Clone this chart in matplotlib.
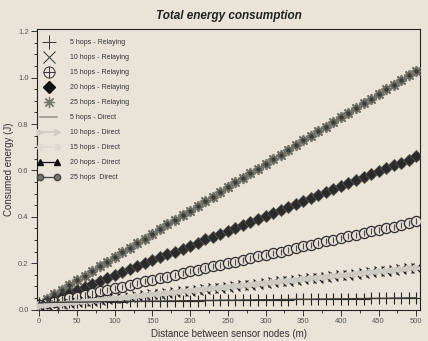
import matplotlib
matplotlib.use("Agg")
import matplotlib.pyplot as plt
from matplotlib.lines import Line2D
from matplotlib.legend_handler import HandlerLine2D, HandlerTuple
from matplotlib.ticker import MultipleLocator

plt.rcParams['font.family'] = ['Liberation Sans', 'DejaVu Sans']

# distance between sensor nodes (m), one sample every 10 m
distance = list(range(0, 501, 10))

# total consumed energy (J)
relay_5 = [0.030, 0.030, 0.031, 0.031, 0.032, 0.032, 0.032, 0.033, 0.033, 0.034,
           0.034, 0.034, 0.035, 0.035, 0.036, 0.036, 0.036, 0.037, 0.037, 0.038,
           0.038, 0.038, 0.039, 0.039, 0.040, 0.040, 0.040, 0.041, 0.041, 0.042,
           0.042, 0.042, 0.043, 0.043, 0.044, 0.044, 0.044, 0.045, 0.045, 0.046,
           0.046, 0.046, 0.047, 0.047, 0.048, 0.048, 0.048, 0.049, 0.049, 0.050,
           0.050]
relay_10 = [0.015, 0.018, 0.022, 0.025, 0.028, 0.032, 0.035, 0.038, 0.041, 0.045,
            0.048, 0.051, 0.055, 0.058, 0.061, 0.065, 0.068, 0.071, 0.074, 0.078,
            0.081, 0.084, 0.088, 0.091, 0.094, 0.098, 0.101, 0.104, 0.107, 0.111,
            0.114, 0.117, 0.121, 0.124, 0.127, 0.131, 0.134, 0.137, 0.140, 0.144,
            0.147, 0.150, 0.154, 0.157, 0.160, 0.164, 0.167, 0.170, 0.173, 0.177,
            0.180]
relay_15 = [0.020, 0.027, 0.034, 0.042, 0.049, 0.056, 0.063, 0.070, 0.078, 0.085,
            0.092, 0.099, 0.106, 0.114, 0.121, 0.128, 0.135, 0.142, 0.150, 0.157,
            0.164, 0.171, 0.178, 0.186, 0.193, 0.200, 0.207, 0.214, 0.222, 0.229,
            0.236, 0.243, 0.250, 0.258, 0.265, 0.272, 0.279, 0.286, 0.294, 0.301,
            0.308, 0.315, 0.322, 0.330, 0.337, 0.344, 0.351, 0.358, 0.366, 0.373,
            0.380]
relay_20 = [0.020, 0.033, 0.046, 0.058, 0.071, 0.084, 0.097, 0.110, 0.122, 0.135,
            0.148, 0.161, 0.174, 0.186, 0.199, 0.212, 0.225, 0.238, 0.250, 0.263,
            0.276, 0.289, 0.302, 0.314, 0.327, 0.340, 0.353, 0.366, 0.378, 0.391,
            0.404, 0.417, 0.430, 0.442, 0.455, 0.468, 0.481, 0.494, 0.506, 0.519,
            0.532, 0.545, 0.558, 0.570, 0.583, 0.596, 0.609, 0.622, 0.634, 0.647,
            0.660]
relay_25 = [0.025, 0.045, 0.065, 0.085, 0.105, 0.126, 0.146, 0.166, 0.186, 0.206,
            0.226, 0.246, 0.266, 0.286, 0.306, 0.327, 0.347, 0.367, 0.387, 0.407,
            0.427, 0.447, 0.467, 0.487, 0.507, 0.528, 0.548, 0.568, 0.588, 0.608,
            0.628, 0.648, 0.668, 0.688, 0.708, 0.729, 0.749, 0.769, 0.789, 0.809,
            0.829, 0.849, 0.869, 0.889, 0.909, 0.930, 0.950, 0.970, 0.990, 1.010,
            1.030]

# direct transmission gives the same totals, so those curves sit on the relaying ones
direct_5 = relay_5
direct_10 = relay_10
direct_15 = relay_15
direct_20 = relay_20
direct_25 = relay_25

bg = '#e9e3d8'
fig = plt.figure(figsize=(4.28, 3.41), dpi=100, facecolor=bg)
ax = fig.add_axes([0.0865, 0.091, 0.895, 0.824], facecolor=bg)

# direct curves drawn underneath
ax.plot(distance, direct_25, '-o', color='#55554c', ms=5, mfc='#77776c',
        mec='#444440', lw=0.8, zorder=2)
ax.plot(distance, direct_20, '-^', color='#111111', ms=5, lw=0.8, zorder=2)
ax.plot(distance, direct_15, '-', color='#d6d2c8', lw=2.5, zorder=2)

# relaying curves
ax.plot(distance, relay_25, ls='none', marker=(8, 2, 0), ms=8,
        color='#74746a', mew=1.1, zorder=3)
ax.plot(distance, relay_25, ls='none', marker='o', ms=2.2, color='#3c3c36',
        zorder=3.1)
ax.plot(distance, relay_20, ls='none', marker='D', ms=6.5,
        mfc='#2a2a2a', mec='#555550', mew=0.6, zorder=3)
ax.plot(distance, relay_15, ls='none', marker='o', ms=7.3, mfc='#e4dfd5',
        mec='#2e2e2e', mew=0.9, zorder=3)
ax.plot(distance, relay_15, ls='none', marker='|', ms=5, color='#4a4a46',
        mew=0.8, zorder=3.1)
ax.plot(distance, relay_10, ls='none', marker='x', ms=7,
        color='#222222', mew=0.9, zorder=3)
ax.plot(distance, relay_5, ls='none', marker='+', ms=8.5,
        color='#222222', mew=0.8, zorder=3)

# direct curves that stay visible on top
ax.plot(distance, direct_10, '->', color='#cdcbc1', ms=4.5,
        mec='#cdcbc1', lw=3.5, zorder=4)
ax.plot(distance, direct_5, '-', color='#3a3a36', lw=1.0, zorder=4)

ax.set_xlim(-3, 505)
ax.set_ylim(-0.002, 1.21)
ax.xaxis.set_major_locator(MultipleLocator(50))
ax.xaxis.set_minor_locator(MultipleLocator(25))
ax.yaxis.set_major_locator(MultipleLocator(0.2))
ax.yaxis.set_minor_locator(MultipleLocator(0.05))
ax.yaxis.set_major_formatter(plt.FuncFormatter(lambda v, p: f'{v:.1f}'))
ax.tick_params(which='both', direction='out', top=False, right=False,
               labelsize=5.5, labelcolor='#555555', color='#333333',
               width=0.7, pad=2)
ax.tick_params(which='major', length=4)
ax.tick_params(which='minor', length=2.5)
for s in ax.spines.values():
    s.set_linewidth(0.8)
    s.set_color('#222222')

ax.set_xlabel('Distance between sensor nodes (m)', fontsize=7, color='#333333',
              labelpad=3)
ax.set_ylabel('Consumed energy (J)', fontsize=7, color='#333333', labelpad=3)
ax.set_title('Total energy consumption', fontsize=8.5, fontweight='bold',
             fontstyle='italic', color='#222222', pad=7)

# legend entries, sized for the key
ring = Line2D([], [], ls='none', marker='o', ms=8, mfc='none',
              mec='#333333', mew=0.7)
cross = Line2D([], [], ls='none', marker='+', ms=8, color='#333333', mew=0.7)
handles = [
    Line2D([], [], ls='none', marker='+', ms=10, color='#333333', mew=0.7),
    Line2D([], [], ls='none', marker='x', ms=8.5, color='#333333', mew=0.7),
    (ring, cross),
    Line2D([], [], ls='none', marker='D', ms=6.5, color='#111111'),
    Line2D([], [], ls='none', marker=(8, 2, 0), ms=8, color='#77776c', mew=0.9),
    Line2D([], [], ls='-', color='#9a988e', lw=1.2),
    Line2D([], [], ls='-', marker='>', ms=4, color='#cfccc2', lw=1.2),
    Line2D([], [], ls='-', marker='o', ms=4, color='#dedad0', lw=1.2),
    Line2D([], [], ls='-', marker='^', ms=4.5, color='#111111', lw=0.9),
    Line2D([], [], ls='-', marker='o', ms=4.5, color='#444440', mfc='#77776c',
           lw=0.9),
]
labels = ['5 hops - Relaying', '10 hops - Relaying', '15 hops - Relaying',
          '20 hops - Relaying', '25 hops - Relaying', '5 hops - Direct',
          '10 hops - Direct', '15 hops - Direct', '20 hops - Direct',
          '25 hops  Direct']
one = HandlerLine2D(numpoints=1)
hmap = {h: one for h in handles[:5] if not isinstance(h, tuple)}
hmap[ring] = one
hmap[cross] = one
hmap[tuple] = HandlerTuple(ndivide=1, pad=0)
leg = ax.legend(handles, labels, loc='upper left', bbox_to_anchor=(0.0, 0.968),
                frameon=False, fontsize=5, labelcolor='#333333',
                handlelength=3.0, handletextpad=1.6, labelspacing=1.15,
                borderpad=0.2, borderaxespad=0.0, numpoints=2,
                handler_map=hmap)

fig.savefig('out.png', dpi=100, facecolor=bg)
